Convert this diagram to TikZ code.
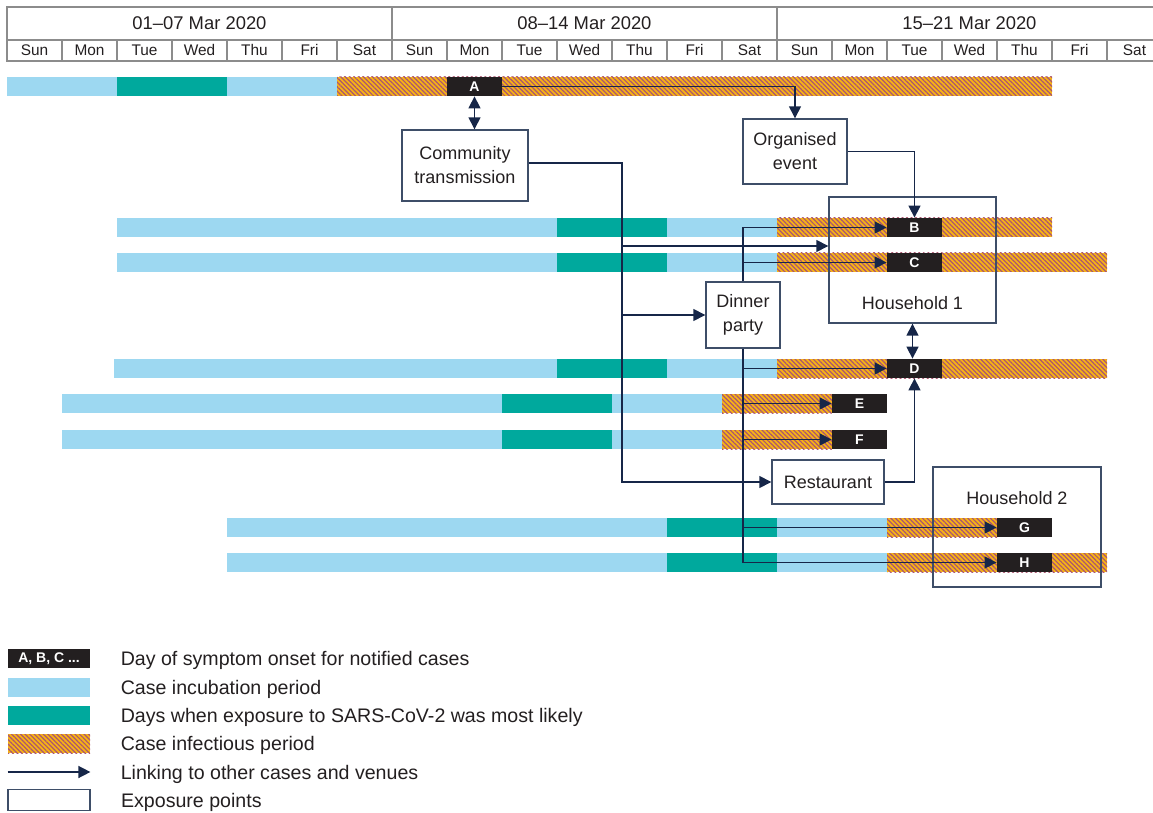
\documentclass[tikz,border=0pt]{standalone}
\usepackage{fontspec}
\setmainfont{Liberation Sans}
\usetikzlibrary{arrows.meta, patterns.meta, positioning}
\definecolor{incub}{RGB}{157,216,241}
\definecolor{expos}{RGB}{0,169,157}
\definecolor{infbg}{RGB}{247,180,20}
\definecolor{infln}{RGB}{170,86,112}
\definecolor{onsetbk}{RGB}{35,31,32}
\definecolor{linkc}{RGB}{22,38,72}
\definecolor{boxln}{RGB}{62,78,104}
\definecolor{gridln}{RGB}{140,140,140}
\definecolor{txt}{RGB}{35,31,32}

\tikzset{
  infect/.style={fill=infbg, postaction={pattern={Lines[angle=-45,distance=1.6pt,line width=0.6pt]}, pattern color=infln}},
  onset/.style={fill=onsetbk, text=white, font=\bfseries\fontsize{7}{8}\selectfont, minimum width=27.5pt, minimum height=9.5pt, inner sep=0pt},
  expbox/.style={draw=boxln, line width=0.7pt, fill=white, align=center, inner sep=0pt, text=txt, font=\fontsize{9}{12}\selectfont},
  hhbox/.style={draw=boxln, line width=0.7pt, inner sep=0pt},
  boxtxt/.style={text=txt, font=\fontsize{9}{12}\selectfont, inner sep=0pt},
  link/.style={draw=linkc, line width=0.75pt, -{Triangle[length=6pt,width=6pt]}},
  dlink/.style={draw=linkc, line width=0.75pt, {Triangle[length=6pt,width=6pt]}-{Triangle[length=6pt,width=6pt]}},
  grid/.style={draw=gridln, line width=0.75pt},
  wklbl/.style={text=txt, font=\fontsize{9.2}{11}\selectfont, inner sep=0pt, anchor=base},
  daylbl/.style={text=txt, font=\fontsize{7.7}{9}\selectfont, inner sep=0pt, anchor=base},
  lgkey/.style={minimum width=41pt, minimum height=9.5pt, inner sep=0pt},
  lgtxt/.style={text=txt, font=\fontsize{9.8}{11}\selectfont, inner sep=0pt, yshift=-1.2pt},
}
\newcommand{\daybar}[4]{\fill[#1] ({7+#2*\dw},#4) rectangle ({7+#3*\dw},#4+\bh);}

\begin{document}
\begin{tikzpicture}[x=0.5pt, y=-0.5pt]
  \def\dw{55}
  \def\bh{19}
  \useasboundingbox (0,0) rectangle (1153,813);

  % calendar header
  \draw[grid] (7,7) rectangle (1162,61);
  \draw[grid] (7,40) -- (1162,40);
  \draw[grid] (392,7) -- (392,40) (777,7) -- (777,40);
  \foreach \i in {1,...,20}
    \draw[grid] ({7+\i*\dw},40) -- ({7+\i*\dw},61);
  \node[wklbl] (wk1) at (199.5,29.5) {01–07 Mar 2020};
  \node[wklbl] (wk2) at (584.5,29.5) {08–14 Mar 2020};
  \node[wklbl] (wk3) at (969.5,29.5) {15–21 Mar 2020};
  \foreach \d [count=\i from 0] in {Sun,Mon,Tue,Wed,Thu,Fri,Sat,Sun,Mon,Tue,Wed,Thu,Fri,Sat,Sun,Mon,Tue,Wed,Thu,Fri,Sat}
    \node[daylbl] (day\i) at ({7+(\i+0.5)*\dw},55.5) {\d};

  % case A
  \daybar{incub}{0}{2}{77}
  \daybar{expos}{2}{4}{77}
  \daybar{incub}{4}{6}{77}
  \daybar{infect}{6}{19}{77}
  % cases B, C, D
  \daybar{incub}{2}{10}{218}
  \daybar{expos}{10}{12}{218}
  \daybar{incub}{12}{14}{218}
  \daybar{infect}{14}{19}{218}
  \daybar{incub}{2}{10}{253}
  \daybar{expos}{10}{12}{253}
  \daybar{incub}{12}{14}{253}
  \daybar{infect}{14}{20}{253}
  \daybar{incub}{1.95}{10}{359}
  \daybar{expos}{10}{12}{359}
  \daybar{incub}{12}{14}{359}
  \daybar{infect}{14}{20}{359}
  % cases E, F
  \daybar{incub}{1}{9}{394}
  \daybar{expos}{9}{11}{394}
  \daybar{incub}{11}{13}{394}
  \daybar{infect}{13}{15}{394}
  \daybar{incub}{1}{9}{430}
  \daybar{expos}{9}{11}{430}
  \daybar{incub}{11}{13}{430}
  \daybar{infect}{13}{15}{430}
  % cases G, H
  \daybar{incub}{4}{12}{518}
  \daybar{expos}{12}{14}{518}
  \daybar{incub}{14}{16}{518}
  \daybar{infect}{16}{18}{518}
  \daybar{incub}{4}{12}{553}
  \daybar{expos}{12}{14}{553}
  \daybar{incub}{14}{16}{553}
  \daybar{infect}{16}{20}{553}

  % symptom onset
  \node[onset] (A) at ({7+8.5*\dw},86.5) {A};
  \node[onset] (B) at ({7+16.5*\dw},227.5) {B};
  \node[onset] (C) at ({7+16.5*\dw},262.5) {C};
  \node[onset] (D) at ({7+16.5*\dw},368.5) {D};
  \node[onset] (E) at ({7+15.5*\dw},403.5) {E};
  \node[onset] (F) at ({7+15.5*\dw},439.5) {F};
  \node[onset] (G) at ({7+18.5*\dw},527.5) {G};
  \node[onset] (H) at ({7+18.5*\dw},562.5) {H};

  % exposure points
  \node[expbox, minimum width=63pt, minimum height=35.5pt] (comm) at (465,165.5) {Community\\transmission};
  \node[expbox, minimum width=52pt, minimum height=32.5pt] (event) at (795,151.5) {Organised\\event};
  \node[expbox, minimum width=37pt, minimum height=33pt] (dinner) at (743,315) {Dinner\\party};
  \node[expbox, minimum width=56pt, minimum height=22pt] (rest) at (828,482) {Restaurant};
  \node[hhbox, minimum width=83.5pt, minimum height=63pt] (hh1) at (912.5,260) {};
  \node[boxtxt] (hh1lbl) at ([yshift=10.5pt]hh1.south) {Household 1};
  \node[hhbox, minimum width=84pt, minimum height=60pt] (hh2) at (1017,527) {};
  \node[boxtxt] (hh2lbl) at ([yshift=-16pt]hh2.north) {Household 2};

  % links
  \coordinate (ctr) at (622,163);
  \coordinate (h1y) at (0,246);
  \draw[dlink] (A.south) -- (A.south |- comm.north);
  \draw[link] (A.east) -| (event.north);
  \draw[link] (event.east) -| (B.north);
  \draw[link] (comm.east |- ctr) -- (ctr) |- (rest.west);
  \draw[link] (ctr |- h1y) -- (hh1.west |- h1y);
  \draw[link] (ctr |- dinner.west) -- (dinner.west);
  \draw[link] (dinner.north) |- (B.west);
  \draw[link] (dinner.north |- C.west) -- (C.west);
  \draw[link] (dinner.south) |- (H.west);
  \foreach \c in {D,E,F,G}
    \draw[link] (dinner.south |- \c.west) -- (\c.west);
  \draw[dlink] (hh1.south) -- (hh1.south |- D.north);
  \draw[link] (rest.east) -| (D.south);

  % legend
  \node[onset, lgkey, font=\bfseries\fontsize{7}{8}\selectfont] (lg1) at (49,658.5) {A, B, C ...};
  \node[lgkey, fill=incub] (lg2) at (49,687.5) {};
  \node[lgkey, fill=expos] (lg3) at (49,715.5) {};
  \node[lgkey, infect] (lg4) at (49,743.5) {};
  \node[lgkey] (lg5) at (49,772) {};
  \node[lgkey, draw=boxln, line width=0.7pt, minimum height=10.5pt] (lg6) at (49,800) {};
  \draw[link] (lg5.west) -- (lg5.east);
  \node[lgtxt, right=15pt of lg1] (lgt1) {Day of symptom onset for notified cases};
  \node[lgtxt, right=15pt of lg2] (lgt2) {Case incubation period};
  \node[lgtxt, right=15pt of lg3] (lgt3) {Days when exposure to SARS-CoV-2 was most likely};
  \node[lgtxt, right=15pt of lg4] (lgt4) {Case infectious period};
  \node[lgtxt, right=15pt of lg5] (lgt5) {Linking to other cases and venues};
  \node[lgtxt, right=15pt of lg6] (lgt6) {Exposure points};
\end{tikzpicture}
\end{document}
